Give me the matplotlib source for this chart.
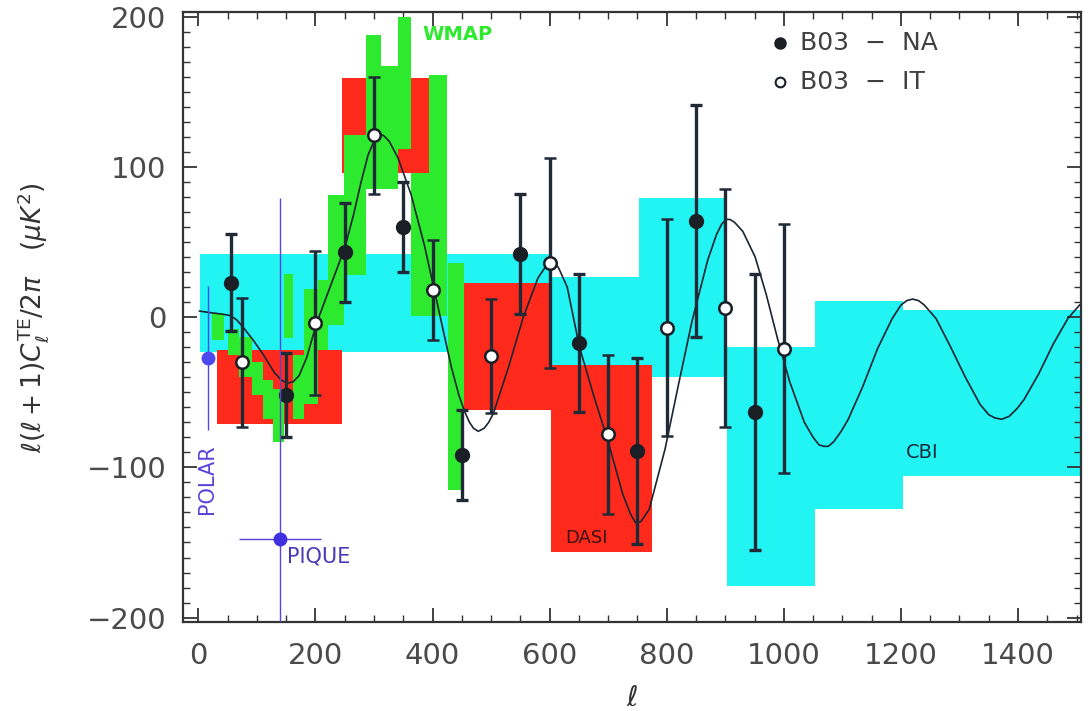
import numpy as np
import matplotlib
matplotlib.use("Agg")
import matplotlib.pyplot as plt
from matplotlib.ticker import MultipleLocator

# B03 NA (filled) and IT (open) TE band powers
na_l = [55, 150, 250, 350, 450, 550, 650, 750, 850, 950]
na_v = [23, -52, 43, 60, -92, 42, -17, -89, 64, -63]
na_err = [32, 28, 33, 30, 30, 40, 46, 62, 77, 92]

it_l = [75, 200, 300, 400, 500, 600, 700, 800, 900, 1000]
it_v = [-30, -4, 121, 18, -26, 36, -78, -7, 6, -21]
it_err = [43, 48, 39, 33, 38, 70, 53, 72, 79, 83]

# theory curve
th_l = [2, 20, 40, 55, 66, 77, 95, 111, 130, 142, 152, 162, 172, 185, 202, 225,
        250, 265, 278, 290, 300, 308, 316, 326, 341, 363, 386, 403, 420, 432,
        445, 455, 463, 470, 478, 488, 496, 504, 530, 555, 580, 592, 600, 608,
        615, 630, 651, 675, 700, 725, 738, 747, 756, 770, 797, 820, 843, 870,
        885, 894, 902, 908, 916, 930, 951, 970, 989, 1010, 1035, 1050, 1060,
        1068, 1076, 1085, 1098, 1110, 1135, 1160, 1185, 1200, 1210, 1220, 1230,
        1240, 1260, 1285, 1310, 1335, 1350, 1360, 1372, 1385, 1398, 1410, 1435,
        1460, 1485, 1505]
th_v = [4, 3, 2, 1, -2, -7, -16, -25, -37, -42, -44, -43, -39, -27, -4, 20,
        46, 68, 90, 108, 117, 121, 121, 117, 106, 82, 48, 18, -12, -33,
        -52, -63, -70, -74, -76, -74, -70, -64, -33, 0, 26, 33, 36, 36,
        33, 20, -20, -52, -83, -118, -131, -137, -136, -128, -88, -45, -3, 38,
        55, 62, 65, 65, 63, 57, 40, 15, -14, -43, -70, -80, -85,
        -86, -86, -83, -76, -68, -46, -21, -1, 8, 11, 12, 11,
        8, -1, -20, -40, -58, -65, -67, -68, -66, -61, -55, -38,
        -18, -1, 8]

# CBI boxes (cyan)
cbi_lmin = [2, 600, 752, 903, 1054, 1203]
cbi_lmax = [600, 752, 903, 1054, 1203, 1505]
cbi_lo = [-23, -40, -40, -179, -128, -106]
cbi_hi = [42, 27, 79, -20, 11, 5]

# DASI boxes (red)
dasi_lmin = [32, 246, 440, 602]
dasi_lmax = [246, 420, 602, 775]
dasi_lo = [-71, 96, -62, -156]
dasi_hi = [-22, 159, 23, -32]

# WMAP boxes (green)
wmap_lmin = [24, 50, 70, 92, 110, 128, 146, 162, 180, 205, 222, 248, 286, 312, 341, 363, 394, 426]
wmap_lmax = [44, 70, 92, 110, 128, 146, 162, 180, 205, 222, 248, 286, 312, 341, 363, 394, 424, 453]
wmap_lo = [-15, -25, -40, -52, -68, -83, -14, -68, -58, -22, -5, 28, 85, 85, 112, 1, 1, -115]
wmap_hi = [3, -8, -13, -30, -42, -48, 29, -25, 19, 25, 81, 121, 188, 167, 200, 96, 161, 36]

# POLAR and PIQUE points
polar_l, polar_v, polar_up, polar_dn = 17, -27, 48, 48
pique_l, pique_v, pique_xerr, pique_up, pique_dn = 140, -148, 70, 227, 160

fig = plt.figure(figsize=(10.9, 7.11), dpi=100)
ax = fig.add_axes([0.168, 0.125, 0.824, 0.858])

def boxes(lmin, lmax, lo, hi, color, z):
    lmin = np.array(lmin); lmax = np.array(lmax)
    lo = np.array(lo); hi = np.array(hi)
    ax.bar(lmin, hi - lo, width=lmax - lmin, bottom=lo, align='edge',
           color=color, linewidth=0, zorder=z)

boxes(cbi_lmin, cbi_lmax, cbi_lo, cbi_hi, '#22f3f3', 1)
boxes(dasi_lmin, dasi_lmax, dasi_lo, dasi_hi, '#ff2a1c', 2)
boxes(wmap_lmin, wmap_lmax, wmap_lo, wmap_hi, '#2eea2e', 3)

ax.plot(th_l, th_v, color='#1b2530', lw=1.2, zorder=5, solid_joinstyle='round')

bar_col = '#1f2a36'
ax.errorbar(na_l, na_v, yerr=na_err, fmt='o', color=bar_col, ms=10, mfc='#1a1f26',
            mec='#1a1f26', elinewidth=2.4, capsize=4, capthick=2.4, zorder=6)
ax.errorbar(it_l, it_v, yerr=it_err, fmt='o', color=bar_col, ms=9, mfc='white',
            mec='#1a1f26', mew=1.8, elinewidth=2.4, capsize=4, capthick=2.4, zorder=7)

# POLAR
ax.errorbar([polar_l], [polar_v], yerr=[[polar_dn], [polar_up]], fmt='o',
            color='#4a48ee', ms=9, elinewidth=1.0, capsize=0, zorder=8)
ax.text(polar_l - 2, -108, 'POLAR', rotation=90, color='#5a44d8', fontsize=15,
        ha='center', va='center', zorder=9)
# PIQUE
ax.errorbar([pique_l], [pique_v], xerr=pique_xerr, yerr=[[pique_dn], [pique_up]],
            fmt='o', color='#5a44d8', mfc='#4030e0', mec='#4030e0', ms=9,
            elinewidth=1.0, capsize=0, zorder=8)
ax.text(pique_l + 12, -159, 'PIQUE', color='#4a3ab8', fontsize=15,
        ha='left', va='center', zorder=9)

ax.text(383, 188, 'WMAP', color='#2eea2e', fontsize=14, fontweight='bold',
        ha='left', va='center', zorder=9)
ax.text(663, -147, 'DASI', color='#3a1212', fontsize=13, ha='center', va='center', zorder=9)
ax.text(1237, -90, 'CBI', color='#1c2c3c', fontsize=14, ha='center', va='center', zorder=9)

# legend drawn by hand, as in the original
ax.plot([0.665], [0.949], 'o', transform=ax.transAxes, color='#1a1f26', ms=8,
        clip_on=False, zorder=10)
ax.plot([0.665], [0.885], 'o', transform=ax.transAxes, mfc='white', mec='#1a1f26',
        mew=1.5, ms=7, clip_on=False, zorder=10)
ax.text(0.687, 0.949, 'B03  \u2212  NA', transform=ax.transAxes, fontsize=18,
        color='#404040', va='center', ha='left', zorder=10)
ax.text(0.687, 0.885, 'B03  \u2212  IT', transform=ax.transAxes, fontsize=18,
        color='#404040', va='center', ha='left', zorder=10)

ax.set_xlim(-26, 1508)
ax.set_ylim(-203, 203)
ax.xaxis.set_major_locator(MultipleLocator(200))
ax.xaxis.set_minor_locator(MultipleLocator(50))
ax.yaxis.set_major_locator(MultipleLocator(100))
ax.yaxis.set_minor_locator(MultipleLocator(10))
ax.tick_params(which='both', direction='in', top=True, right=True, colors='#333333',
               labelcolor='#4a4a4a', labelsize=21)
ax.tick_params(which='major', length=10, width=1.3)
ax.tick_params(which='minor', length=5, width=1.0)
ax.tick_params(axis='x', pad=14)
ax.tick_params(axis='y', pad=12)
ax.yaxis.set_major_formatter(matplotlib.ticker.FuncFormatter(
    lambda v, p: ('\u2212%d' % -v) if v < 0 else '%d' % v))
for s in ax.spines.values():
    s.set_linewidth(1.6)
    s.set_color('#333333')

ax.set_xlabel(r'$\ell$', fontsize=20, color='#333333', labelpad=10)
ax.set_ylabel(r'$\ell(\ell+1)C_\ell^{\rm TE}/2\pi\quad(\mu K^2)$', fontsize=19,
              color='#333333', labelpad=26)

fig.savefig('out.png', dpi=100)
